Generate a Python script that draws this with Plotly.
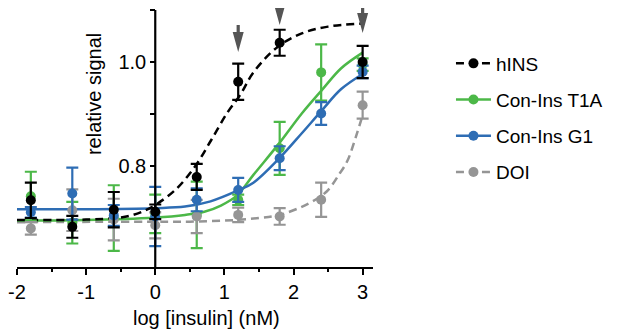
import plotly.graph_objects as go

# ---------------- data ----------------
log_conc = [-1.8, -1.2, -0.6, 0.0, 0.6, 1.2, 1.8, 2.4, 3.0]

hins_y   = [0.734, 0.683, 0.716, 0.712, 0.779, 0.962, 1.037, None, 1.000]
hins_err = [0.034, 0.021, 0.034, 0.014, 0.025, 0.035, 0.025, None, 0.031]

t1a_y   = [0.742, 0.691, 0.700, 0.708, 0.706, 0.735, 0.834, 0.980, 0.995]
t1a_err = [0.047, 0.040, 0.063, 0.037, 0.064, 0.010, 0.051, 0.054, 0.012]

g1_y   = [0.711, 0.747, 0.705, 0.703, 0.735, 0.754, 0.815, 0.901, 0.981]
g1_err = [0.010, 0.050, 0.020, 0.057, 0.022, 0.023, 0.023, 0.022, 0.012]

doi_y   = [0.680, 0.715, 0.697, 0.686, 0.703, 0.706, 0.703, 0.735, 0.917]
doi_err = [0.012, 0.040, 0.040, 0.025, 0.032, 0.014, 0.016, 0.033, 0.026]

# fitted curves
hins_fit_x = [-2.0, -1.0, -0.5, -0.32, -0.14, 0.0, 0.29, 0.57, 0.81, 1.04, 1.23, 1.42, 1.77, 2.12, 2.5, 3.0]
hins_fit_y = [0.696, 0.697, 0.701, 0.706, 0.715, 0.725, 0.754, 0.798, 0.850, 0.902, 0.937, 0.980, 1.029, 1.055, 1.068, 1.074]

t1a_fit_x = [-2.0, -1.0, 0.0, 0.43, 0.71, 0.95, 1.18, 1.42, 1.795, 2.12, 2.41, 2.69, 3.0]
t1a_fit_y = [0.695, 0.696, 0.701, 0.706, 0.712, 0.724, 0.743, 0.783, 0.844, 0.901, 0.946, 0.988, 1.018]

g1_fit_x = [-2.0, -1.0, 0.0, 0.43, 0.80, 1.18, 1.42, 1.795, 2.12, 2.41, 2.69, 3.0]
g1_fit_y = [0.717, 0.717, 0.719, 0.722, 0.732, 0.752, 0.768, 0.815, 0.863, 0.907, 0.948, 0.977]

doi_fit_x = [-2.0, 0.0, 0.5, 1.14, 1.5, 1.8, 2.22, 2.48, 2.67, 2.78, 2.9, 3.0]
doi_fit_y = [0.692, 0.693, 0.693, 0.696, 0.700, 0.706, 0.728, 0.751, 0.786, 0.810, 0.855, 0.898]

series_names = ["hINS", "Con-Ins T1A", "Con-Ins G1", "DOI"]

arrow_x = [1.2, 1.8, 3.0]
arrow_y = [1.019, 1.071, 1.056]

x_tickvals = [-2, -1, 0, 1, 2, 3]
x_ticktext = ["-2", "-1", "0", "1", "2", "3"]
y_tickvals = [0.8, 0.9, 1.0, 1.1]
y_ticktext = ["0.8", "", "1.0", ""]

# ---------------- style ----------------
BLACK = "#000000"
GREEN = "#4cb848"
BLUE = "#2e6db4"
GRAY = "#959595"
ARROW = "#555555"
FONT = "Liberation Sans, Arial, Helvetica, sans-serif"
DASH = "8px,5px"

X_RANGE = [-2.0, 3.15]
Y_RANGE = [0.6058, 1.10385]
PLOT_W, PLOT_H = 365, 259

fig = go.Figure()

# curves
curve_specs = [
    (doi_fit_x, doi_fit_y, GRAY, DASH),
    (t1a_fit_x, t1a_fit_y, GREEN, "solid"),
    (g1_fit_x, g1_fit_y, BLUE, "solid"),
    (hins_fit_x, hins_fit_y, BLACK, DASH),
]
for cx, cy, col, dash in curve_specs:
    fig.add_trace(go.Scatter(x=cx, y=cy, mode="lines",
                             line=dict(color=col, width=2.5, dash=dash, shape="spline", smoothing=1.0),
                             showlegend=False, hoverinfo="skip", cliponaxis=False))

# points with error bars
point_specs = [
    (t1a_y, t1a_err, GREEN),
    (doi_y, doi_err, GRAY),
    (g1_y, g1_err, BLUE),
    (hins_y, hins_err, BLACK),
]
for py_, pe, col in point_specs:
    fig.add_trace(go.Scatter(x=log_conc, y=py_, mode="markers",
                             marker=dict(color=col, size=10),
                             error_y=dict(type="data", array=pe, visible=True, color=col,
                                          thickness=2.2, width=6),
                             showlegend=False, cliponaxis=False))

# legend entries
legend_specs = [
    (series_names[0], BLACK, DASH),
    (series_names[1], GREEN, "solid"),
    (series_names[2], BLUE, "solid"),
    (series_names[3], GRAY, DASH),
]
for i, (nm, col, dash) in enumerate(legend_specs):
    fig.add_trace(go.Scatter(x=[None], y=[None], mode="lines+markers", name=nm,
                             legendgroup="g%d" % i,
                             line=dict(color=col, width=2.5, dash=dash),
                             marker=dict(color=col, size=10)))

# arrows (pixel sized paths anchored at data positions; +y is up)
arrow_path = "M0,0 L-5.5,20 L-1.6,20 L-1.6,27 L1.6,27 L1.6,20 L5.5,20 Z"
for ax_, ay_ in zip(arrow_x, arrow_y):
    fig.add_shape(type="path", xref="x", yref="y", xsizemode="pixel", ysizemode="pixel",
                  xanchor=ax_, yanchor=ay_, path=arrow_path,
                  fillcolor=ARROW, line=dict(width=0))

# y axis line at x = 0
fig.add_shape(type="line", xref="x", yref="y", x0=0, x1=0, y0=Y_RANGE[0], y1=1.1,
              line=dict(color=BLACK, width=2.2))

ypos = (0 - X_RANGE[0]) / (X_RANGE[1] - X_RANGE[0])

fig.update_layout(
    width=609, height=324,
    margin=dict(l=0, r=609 - PLOT_W, t=0, b=324 - PLOT_H),
    paper_bgcolor="white", plot_bgcolor="white",
    font=dict(family=FONT, size=20, color="black"),
    xaxis=dict(range=X_RANGE, showgrid=False, zeroline=False, showline=True,
               linecolor=BLACK, linewidth=2.2, ticks="outside", ticklen=6, tickwidth=2,
               tickcolor=BLACK, tickvals=x_tickvals, ticktext=x_ticktext,
               tickfont=dict(size=20), ticklabeloverflow="allow",
               minor=dict(dtick=0.5, tick0=0, ticks="outside", ticklen=3, tickwidth=2,
                          tickcolor=BLACK, showgrid=False)),
    yaxis=dict(range=Y_RANGE, showgrid=False, zeroline=False, showline=False,
               anchor="free", position=ypos, ticks="outside", ticklen=5, tickwidth=2,
               tickcolor=BLACK, tickvals=y_tickvals, ticktext=y_ticktext,
               tickfont=dict(size=20)),
    legend=dict(x=1.219, y=0.859, xanchor="left", yanchor="top", tracegroupgap=8.5,
                itemwidth=35, traceorder="grouped", font=dict(size=19),
                bgcolor="rgba(0,0,0,0)"),
    showlegend=True,
    annotations=[
        dict(text="relative signal", xref="paper", yref="paper",
             x=79 / PLOT_W, y=(PLOT_H - 86) / PLOT_H, textangle=-90, showarrow=False,
             xanchor="center", yanchor="middle", font=dict(size=20)),
        dict(text="log [insulin] (nM)", xref="paper", yref="paper",
             x=194.5 / PLOT_W, y=(PLOT_H - 310) / PLOT_H, showarrow=False,
             xanchor="center", yanchor="middle", font=dict(size=20)),
    ],
)

fig.write_html("out.html")
